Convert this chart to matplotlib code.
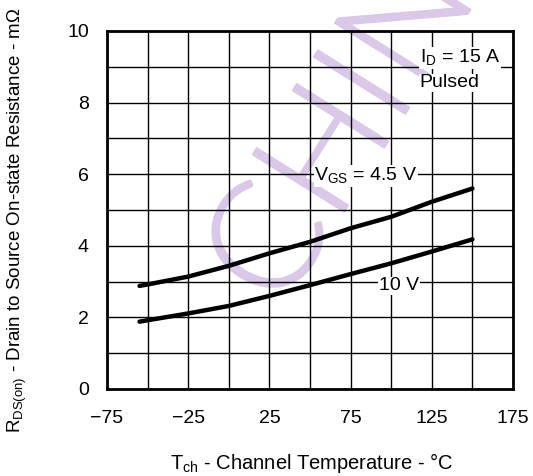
import numpy as np
import matplotlib.pyplot as plt
import matplotlib.patheffects as pe

plt.rcParams['font.family'] = ['Liberation Sans', 'DejaVu Sans']

# channel temperature (degC) and on-resistance (mOhm)
temp = [-55, -50, -25, 0, 25, 50, 75, 100, 125, 150]
r_45v = [2.88, 2.92, 3.14, 3.44, 3.79, 4.11, 4.49, 4.81, 5.23, 5.60]
r_10v = [1.88, 1.92, 2.11, 2.32, 2.60, 2.90, 3.21, 3.51, 3.84, 4.18]

xticks = [-75, -25, 25, 75, 125, 175]
yticks = [0, 2, 4, 6, 8, 10]

fig = plt.figure(figsize=(5.33, 4.76), dpi=100)
ax = fig.add_axes([0.2008, 0.1828, 0.7617, 0.7521])

# watermark behind everything (runs past the top of the chart)
wm_color = '#d9c8e8'
fig.text(281 / 533, 1 - 313 / 476, 'CHINA', fontsize=110, family=['Lato', 'DejaVu Sans'],
         color=wm_color, rotation=58, ha='left', va='baseline', zorder=-1,
         rotation_mode='anchor', fontweight=300,
         path_effects=[pe.withStroke(linewidth=1.2, foreground=wm_color)])

# grid every 25 degC and every 1 mOhm
ax.set_xticks(np.arange(-75, 176, 25), minor=True)
ax.set_yticks(np.arange(0, 11, 1), minor=True)
ax.grid(which='both', color='black', linewidth=1.0, zorder=1)
ax.patch.set_alpha(0)
ax.set_axisbelow(False)

ax.plot(temp, r_45v, color='black', linewidth=3.2, solid_capstyle='round', zorder=3)
ax.plot(temp, r_10v, color='black', linewidth=3.2, solid_capstyle='round', zorder=3)

ax.set_xlim(-75, 175)
ax.set_ylim(0, 10)
ax.set_xticks(xticks)
ax.set_yticks(yticks)
ax.tick_params(which='both', length=0, labelsize=14)
ax.tick_params(axis='x', pad=15)
ax.tick_params(axis='y', pad=13)
for s in ax.spines.values():
    s.set_linewidth(2)
    s.set_zorder(4)

box = dict(facecolor='white', edgecolor='none', pad=0.5)
ax.text(117.5, 9.25, r'I$_\mathregular{D}$ = 15 A', fontsize=14, ha='left', va='center',
        bbox=box, zorder=5)
ax.text(117.5, 8.55, 'Pulsed', fontsize=14, ha='left', va='center', bbox=box, zorder=5)
ax.text(84.5, 5.95, r'V$_\mathregular{GS}$ = 4.5 V', fontsize=14, ha='center', va='center',
        bbox=box, zorder=5)
ax.text(105, 2.88, '10 V', fontsize=14, ha='center', va='center', bbox=box, zorder=5)

ax.set_xlabel(r'T$_\mathregular{ch}$ - Channel Temperature - °C', fontsize=14.5)
ax.set_ylabel(r'R$_\mathregular{DS(on)}$ - Drain to Source On-state Resistance - mΩ',
              fontsize=13.5)
ax.xaxis.set_label_coords(0.504, -0.172)
ax.yaxis.set_label_coords(-0.192, 0.472)

fig.savefig('out.png', dpi=100)
